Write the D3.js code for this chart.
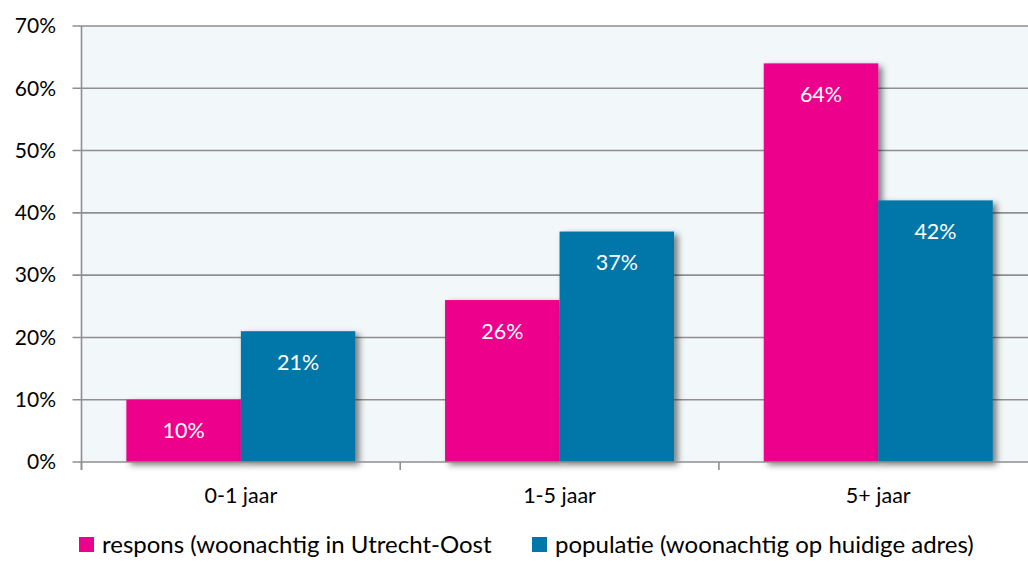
<!DOCTYPE html>
<html>
<head>
<meta charset="utf-8">
<script src="https://cdn.jsdelivr.net/npm/d3@7"></script>
<style>
  html, body { margin: 0; padding: 0; background: #ffffff; }
  svg { display: block; font-family: Lato, "Open Sans", sans-serif; }
</style>
</head>
<body>
<svg id="chart" width="1028" height="565"></svg>
<script>
const categories = ["0-1 jaar", "1-5 jaar", "5+ jaar"];
const seriesNames = ["respons (woonachtig in Utrecht-Oost", "populatie (woonachtig op huidige adres)"];
const respons = [10, 26, 64];
const populatie = [21, 37, 42];
const yTicks = [0, 10, 20, 30, 40, 50, 60, 70];
const colors = ["#EC008C", "#0077A8"];

(function () {
const svg = d3.select("#chart");
const plotLeft = 81.5, plotTop = 26, plotBottom = 462;
const step = 318.7;
const plotRight = plotLeft + step * categories.length;

const defs = svg.append("defs");
const f = defs.append("filter").attr("id", "shadow")
  .attr("x", "-20%").attr("y", "-20%").attr("width", "150%").attr("height", "150%");
f.append("feDropShadow").attr("dx", 4).attr("dy", 3).attr("stdDeviation", 3)
  .attr("flood-color", "#000").attr("flood-opacity", 0.5);

const x = d3.scaleBand().domain(categories).range([plotLeft, plotRight])
  .paddingInner(0.2815).paddingOuter(0.14075);
const xs = d3.scaleBand().domain([0, 1]).range([0, x.bandwidth()]);
const y = d3.scaleLinear().domain([0, 70]).range([plotBottom, plotTop]);

svg.append("rect").attr("x", plotLeft).attr("y", plotTop)
  .attr("width", 1028 - plotLeft).attr("height", plotBottom - plotTop).attr("fill", "#F2F7FA");

svg.append("g").selectAll("line").data(yTicks.filter(d => d > 0)).join("line")
  .attr("x1", plotLeft - 9).attr("x2", 1028)
  .attr("y1", d => y(d)).attr("y2", d => y(d))
  .attr("stroke", "#8F8F8F").attr("stroke-width", 1.6);

const data = categories.map((c, i) => ({ c, vals: [respons[i], populatie[i]] }));
const groups = svg.append("g").selectAll("g").data(data).join("g")
  .attr("transform", d => `translate(${x(d.c)},0)`);
groups.selectAll("rect").data(d => d.vals.map((v, k) => ({ v, k }))).join("rect")
  .attr("x", d => xs(d.k)).attr("width", xs.bandwidth())
  .attr("y", d => y(d.v)).attr("height", d => plotBottom - y(d.v))
  .attr("fill", d => colors[d.k]).attr("filter", "url(#shadow)");
groups.selectAll("text").data(d => d.vals.map((v, k) => ({ v, k }))).join("text")
  .attr("x", d => xs(d.k) + xs.bandwidth() / 2)
  .attr("y", d => y(d.v) + 31).attr("dy", "0.35em")
  .attr("text-anchor", "middle").attr("fill", "#fff")
  .attr("font-size", 21.5).text(d => d.v + "%");

svg.append("line").attr("x1", plotLeft).attr("x2", plotLeft).attr("y1", plotTop).attr("y2", plotBottom + 8)
  .attr("stroke", "#8F8F8F").attr("stroke-width", 1.6);
svg.append("line").attr("x1", plotLeft - 9).attr("x2", 1028).attr("y1", plotBottom).attr("y2", plotBottom)
  .attr("stroke", "#8F8F8F").attr("stroke-width", 1.6);
svg.append("g").selectAll("line").data(d3.range(categories.length + 1)).join("line")
  .attr("x1", d => plotLeft + d * step).attr("x2", d => plotLeft + d * step)
  .attr("y1", plotBottom).attr("y2", plotBottom + 8)
  .attr("stroke", "#8F8F8F").attr("stroke-width", 1.6);

svg.append("g").selectAll("text").data(yTicks).join("text")
  .attr("x", 56).attr("y", d => y(d)).attr("dy", "0.35em")
  .attr("text-anchor", "end").attr("font-size", 21).attr("fill", "#000")
  .text(d => d + "%");

svg.append("g").selectAll("text").data(categories).join("text")
  .attr("x", d => x(d) + x.bandwidth() / 2).attr("y", 495).attr("dy", "0.35em")
  .attr("text-anchor", "middle").attr("font-size", 21.5).attr("fill", "#000")
  .text(d => d);

const legendX = [79, 532];
const lg = svg.append("g").selectAll("g").data(seriesNames).join("g")
  .attr("transform", (d, i) => `translate(${legendX[i]},537)`);
lg.append("rect").attr("width", 15).attr("height", 15).attr("fill", (d, i) => colors[i]);
lg.append("text").attr("x", 23).attr("y", 8).attr("dy", "0.35em")
  .attr("font-size", 24).attr("fill", "#000").text(d => d);
})();
</script>
</body>
</html>
